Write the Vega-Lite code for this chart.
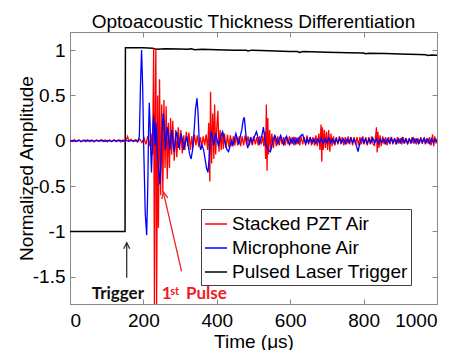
{
  "$schema": "https://vega.github.io/schema/vega-lite/v6.json",
  "width": 367,
  "height": 272,
  "autosize": {"type": "none"},
  "padding": {"left": 70, "top": 32, "right": 24, "bottom": 46},
  "background": "white",
  "title": {"text": "Optoacoustic Thickness Differentiation", "fontSize": 19, "font": "Liberation Sans", "fontWeight": "normal", "color": "black", "anchor": "middle", "offset": 0},
  "config": {
    "view": {"stroke": "#888888", "strokeWidth": 1},
    "axis": {"grid": false, "domain": false, "tickColor": "#888888", "tickSize": -5, "labelFont": "Liberation Sans", "labelFontSize": 19, "labelColor": "black", "titleFont": "Liberation Sans", "titleFontSize": 19, "titleFontWeight": "normal", "titleColor": "black"},
    "legend": {"orient": "none", "legendX": 131, "legendY": 177, "symbolType": "stroke", "symbolSize": 484, "symbolStrokeWidth": 1.5, "labelFont": "Liberation Sans", "labelFontSize": 19, "labelColor": "black", "padding": 3, "rowPadding": 2, "strokeColor": "#404040", "fillColor": "white", "labelOffset": 4, "labelLimit": 300}
  },
  "resolve": {"axis": {"x": "independent", "y": "independent"}},
  "layer": [
    {
      "data": {"values": [
        {"t":0,"v":-1},{"t":150,"v":-1},{"t":151,"v":1.025},{"t":200,"v":1.025},{"t":225,"v":1.02},{"t":235,"v":1.01},{"t":260,"v":1.015},{"t":300,"v":1.012},{"t":320,"v":1.01},{"t":330,"v":1.016},{"t":340,"v":1.005},{"t":360,"v":1.01},{"t":400,"v":1.005},{"t":450,"v":1.0},{"t":480,"v":1.0},{"t":485,"v":0.99},{"t":495,"v":1.0},{"t":520,"v":0.995},{"t":560,"v":0.99},{"t":600,"v":0.985},{"t":620,"v":0.985},{"t":625,"v":0.975},{"t":635,"v":0.985},{"t":700,"v":0.978},{"t":760,"v":0.972},{"t":800,"v":0.968},{"t":805,"v":0.96},{"t":815,"v":0.965},{"t":860,"v":0.962},{"t":900,"v":0.958},{"t":950,"v":0.952},{"t":970,"v":0.948},{"t":975,"v":0.94},{"t":985,"v":0.947},{"t":1000,"v":0.943}
      ]},
      "mark": {"type": "line", "strokeWidth": 1.5, "clip": true},
      "encoding": {
        "x": {"field": "t", "type": "quantitative", "scale": {"domain": [0, 1000], "nice": false}, "axis": {"orient": "bottom", "values": [0,200,400,600,800,1000], "labelExpr": "'' + datum.value", "title": "Time (μs)", "labelPadding": 12, "titlePadding": 2}},
        "y": {"field": "v", "type": "quantitative", "scale": {"domain": [-1.8, 1.2], "nice": false, "zero": false}, "axis": {"orient": "left", "values": [-1.5,-1,-0.5,0,0.5,1], "labelExpr": "'' + datum.value", "title": "Normalized Amplitude", "labelPadding": 10, "titlePadding": -4}},
        "color": {"datum": "Pulsed Laser Trigger", "type": "nominal", "scale": {"domain": ["Stacked PZT Air", "Microphone Air", "Pulsed Laser Trigger"], "range": ["#ff0000", "#0000ff", "#000000"]}, "legend": {"title": null}}
      }
    },
    {
      "data": {"values": [
        {"t":0,"v":0.01},{"t":6,"v":-0.01},{"t":12,"v":0.012},{"t":18,"v":-0.008},{"t":24,"v":0.01},{"t":30,"v":-0.012},{"t":36,"v":0.008},{"t":42,"v":-0.01},{"t":48,"v":0.012},{"t":54,"v":-0.01},{"t":60,"v":0.01},{"t":66,"v":-0.012},{"t":72,"v":0.01},{"t":78,"v":-0.008},{"t":84,"v":0.012},{"t":90,"v":-0.01},{"t":96,"v":0.01},{"t":102,"v":-0.012},{"t":108,"v":0.01},{"t":114,"v":-0.01},{"t":120,"v":0.012},{"t":126,"v":-0.01},{"t":132,"v":0.01},{"t":138,"v":-0.012},{"t":144,"v":0.01},{"t":150,"v":-0.01},{"t":154,"v":0.02},{"t":157,"v":0.05},{"t":160,"v":0.0},{"t":166,"v":0.015},{"t":172,"v":-0.01},{"t":178,"v":0.012},{"t":184,"v":-0.015},{"t":190,"v":0.02},{"t":196,"v":-0.02},{"t":202,"v":0.03},{"t":207,"v":-0.04},{"t":212,"v":0.05},{"t":217,"v":-0.06},{"t":221,"v":0.08},{"t":225,"v":-0.15},{"t":228,"v":1.02},{"t":230,"v":-1.8},{"t":232,"v":0.2},{"t":234,"v":1.02},{"t":236,"v":-1.8},{"t":239,"v":0.5},{"t":241,"v":-0.96},{"t":244,"v":0.68},{"t":247,"v":-0.6},{"t":250,"v":0.4},{"t":253,"v":-0.57},{"t":256,"v":0.45},{"t":259,"v":-0.3},{"t":262,"v":0.38},{"t":265,"v":-0.42},{"t":268,"v":0.2},{"t":271,"v":-0.3},{"t":274,"v":0.25},{"t":277,"v":-0.15},{"t":280,"v":0.22},{"t":284,"v":-0.22},{"t":288,"v":0.12},{"t":291,"v":-0.18},{"t":295,"v":0.15},{"t":299,"v":-0.1},{"t":302,"v":0.12},{"t":306,"v":-0.14},{"t":310,"v":0.06},{"t":313,"v":-0.1},{"t":317,"v":0.1},{"t":321,"v":-0.06},{"t":324,"v":0.09},{"t":328,"v":-0.1},{"t":332,"v":0.05},{"t":335,"v":-0.08},{"t":339,"v":0.07},{"t":343,"v":-0.05},{"t":347,"v":0.06},{"t":351,"v":-0.07},{"t":355,"v":0.04},{"t":359,"v":-0.06},{"t":363,"v":0.05},{"t":367,"v":-0.05},{"t":371,"v":0.07},{"t":375,"v":-0.1},{"t":378,"v":0.2},{"t":381,"v":-0.45},{"t":383,"v":0.54},{"t":386,"v":-0.25},{"t":389,"v":0.3},{"t":392,"v":-0.2},{"t":394,"v":0.4},{"t":397,"v":-0.15},{"t":400,"v":0.15},{"t":403,"v":0.33},{"t":406,"v":-0.12},{"t":409,"v":0.12},{"t":412,"v":-0.1},{"t":415,"v":0.1},{"t":418,"v":-0.09},{"t":421,"v":0.08},{"t":425,"v":-0.08},{"t":429,"v":0.07},{"t":433,"v":-0.07},{"t":437,"v":0.06},{"t":441,"v":-0.06},{"t":445,"v":0.05},{"t":449,"v":-0.05},{"t":453,"v":0.06},{"t":457,"v":-0.05},{"t":461,"v":0.05},{"t":465,"v":-0.06},{"t":469,"v":0.05},{"t":473,"v":-0.05},{"t":477,"v":0.06},{"t":481,"v":-0.04},{"t":485,"v":0.05},{"t":489,"v":-0.05},{"t":493,"v":0.04},{"t":497,"v":-0.05},{"t":501,"v":0.05},{"t":505,"v":-0.04},{"t":509,"v":0.04},{"t":513,"v":-0.05},{"t":517,"v":0.05},{"t":521,"v":-0.04},{"t":525,"v":0.05},{"t":528,"v":-0.06},{"t":531,"v":0.1},{"t":533,"v":-0.2},{"t":535,"v":0.4},{"t":537,"v":-0.33},{"t":539,"v":0.25},{"t":541,"v":-0.15},{"t":544,"v":0.12},{"t":547,"v":-0.1},{"t":550,"v":0.08},{"t":554,"v":-0.08},{"t":558,"v":0.06},{"t":562,"v":-0.06},{"t":566,"v":0.05},{"t":570,"v":-0.05},{"t":574,"v":0.05},{"t":578,"v":-0.04},{"t":582,"v":0.04},{"t":586,"v":-0.05},{"t":590,"v":0.04},{"t":594,"v":-0.04},{"t":598,"v":0.05},{"t":602,"v":-0.04},{"t":606,"v":0.04},{"t":610,"v":-0.05},{"t":614,"v":0.04},{"t":618,"v":-0.04},{"t":622,"v":0.04},{"t":626,"v":-0.05},{"t":630,"v":0.05},{"t":634,"v":-0.04},{"t":638,"v":0.04},{"t":642,"v":-0.05},{"t":646,"v":0.06},{"t":650,"v":-0.04},{"t":654,"v":0.04},{"t":658,"v":-0.05},{"t":662,"v":0.04},{"t":666,"v":-0.05},{"t":670,"v":0.06},{"t":674,"v":-0.06},{"t":678,"v":0.08},{"t":681,"v":-0.1},{"t":684,"v":0.18},{"t":686,"v":-0.23},{"t":688,"v":0.15},{"t":690,"v":-0.1},{"t":693,"v":0.12},{"t":696,"v":-0.08},{"t":699,"v":0.1},{"t":702,"v":-0.1},{"t":705,"v":0.12},{"t":708,"v":-0.12},{"t":711,"v":0.08},{"t":714,"v":-0.06},{"t":718,"v":0.05},{"t":722,"v":-0.05},{"t":726,"v":0.04},{"t":730,"v":-0.04},{"t":734,"v":0.05},{"t":738,"v":-0.04},{"t":742,"v":0.04},{"t":746,"v":-0.05},{"t":750,"v":0.04},{"t":754,"v":-0.04},{"t":758,"v":0.05},{"t":762,"v":-0.04},{"t":766,"v":0.04},{"t":770,"v":-0.05},{"t":774,"v":0.04},{"t":778,"v":-0.04},{"t":782,"v":0.04},{"t":786,"v":-0.05},{"t":790,"v":0.04},{"t":794,"v":-0.04},{"t":798,"v":0.05},{"t":802,"v":-0.04},{"t":806,"v":0.04},{"t":810,"v":-0.05},{"t":814,"v":0.04},{"t":818,"v":-0.04},{"t":822,"v":0.05},{"t":826,"v":-0.04},{"t":830,"v":-0.05},{"t":833,"v":0.06},{"t":835,"v":0.15},{"t":837,"v":-0.13},{"t":839,"v":0.1},{"t":842,"v":-0.08},{"t":845,"v":0.06},{"t":848,"v":-0.06},{"t":852,"v":0.05},{"t":856,"v":-0.04},{"t":860,"v":0.04},{"t":864,"v":-0.05},{"t":868,"v":0.04},{"t":872,"v":-0.04},{"t":876,"v":0.04},{"t":880,"v":-0.04},{"t":884,"v":0.03},{"t":888,"v":-0.04},{"t":892,"v":0.04},{"t":896,"v":-0.03},{"t":900,"v":0.03},{"t":904,"v":-0.04},{"t":908,"v":0.04},{"t":912,"v":-0.03},{"t":916,"v":0.03},{"t":920,"v":-0.04},{"t":924,"v":0.03},{"t":928,"v":-0.03},{"t":932,"v":0.04},{"t":936,"v":-0.03},{"t":940,"v":0.03},{"t":944,"v":-0.04},{"t":948,"v":0.03},{"t":952,"v":-0.03},{"t":956,"v":0.04},{"t":960,"v":-0.03},{"t":964,"v":0.03},{"t":968,"v":-0.04},{"t":972,"v":0.03},{"t":976,"v":-0.03},{"t":980,"v":0.04},{"t":984,"v":-0.05},{"t":988,"v":0.07},{"t":991,"v":-0.06},{"t":994,"v":0.05},{"t":997,"v":-0.03},{"t":1000,"v":0.02}
      ]},
      "mark": {"type": "line", "strokeWidth": 1.3, "clip": true},
      "encoding": {
        "x": {"field": "t", "type": "quantitative", "axis": null},
        "y": {"field": "v", "type": "quantitative", "axis": null},
        "color": {"datum": "Stacked PZT Air", "type": "nominal"}
      }
    },
    {
      "data": {"values": [
        {"t":0,"v":-0.005},{"t":8,"v":0.005},{"t":16,"v":-0.006},{"t":24,"v":0.004},{"t":32,"v":-0.005},{"t":40,"v":0.006},{"t":48,"v":-0.004},{"t":56,"v":0.005},{"t":64,"v":-0.006},{"t":72,"v":0.005},{"t":80,"v":-0.004},{"t":88,"v":0.006},{"t":96,"v":-0.005},{"t":104,"v":0.004},{"t":112,"v":-0.006},{"t":120,"v":0.005},{"t":128,"v":-0.004},{"t":136,"v":0.006},{"t":144,"v":-0.005},{"t":152,"v":0.005},{"t":160,"v":-0.006},{"t":168,"v":0.005},{"t":176,"v":-0.004},{"t":182,"v":0.006},{"t":186,"v":0.0},{"t":189,"v":0.05},{"t":192,"v":0.6},{"t":195,"v":1.0},{"t":198,"v":0.6},{"t":201,"v":-0.1},{"t":205,"v":-0.8},{"t":209,"v":-1.04},{"t":212,"v":-0.5},{"t":214,"v":0.1},{"t":216,"v":0.42},{"t":218,"v":0.2},{"t":220,"v":-0.1},{"t":222,"v":-0.35},{"t":224,"v":-0.1},{"t":226,"v":0.15},{"t":228,"v":0.28},{"t":230,"v":0.1},{"t":232,"v":-0.05},{"t":234,"v":0.2},{"t":236,"v":0.1},{"t":238,"v":-0.15},{"t":241,"v":-0.3},{"t":245,"v":-0.48},{"t":248,"v":-0.2},{"t":251,"v":0.1},{"t":254,"v":0.3},{"t":257,"v":0.15},{"t":260,"v":-0.1},{"t":263,"v":0.05},{"t":266,"v":0.15},{"t":269,"v":0.0},{"t":272,"v":-0.1},{"t":275,"v":0.05},{"t":278,"v":0.12},{"t":281,"v":-0.05},{"t":284,"v":-0.12},{"t":287,"v":0.0},{"t":290,"v":0.1},{"t":293,"v":0.05},{"t":296,"v":-0.08},{"t":299,"v":-0.02},{"t":302,"v":0.08},{"t":306,"v":0.02},{"t":310,"v":-0.1},{"t":314,"v":-0.02},{"t":318,"v":0.05},{"t":322,"v":-0.05},{"t":326,"v":-0.15},{"t":330,"v":-0.2},{"t":334,"v":-0.1},{"t":338,"v":0.1},{"t":342,"v":0.35},{"t":346,"v":0.47},{"t":349,"v":0.3},{"t":352,"v":0.0},{"t":356,"v":-0.1},{"t":360,"v":-0.05},{"t":364,"v":-0.1},{"t":368,"v":-0.2},{"t":372,"v":-0.3},{"t":376,"v":-0.35},{"t":379,"v":-0.2},{"t":382,"v":0.0},{"t":385,"v":0.1},{"t":388,"v":0.05},{"t":391,"v":-0.05},{"t":394,"v":0.0},{"t":397,"v":0.08},{"t":400,"v":0.03},{"t":404,"v":-0.05},{"t":408,"v":0.0},{"t":412,"v":0.06},{"t":416,"v":0.1},{"t":420,"v":0.03},{"t":424,"v":-0.05},{"t":428,"v":-0.1},{"t":432,"v":-0.12},{"t":436,"v":-0.06},{"t":440,"v":0.0},{"t":444,"v":-0.05},{"t":448,"v":0.02},{"t":452,"v":0.08},{"t":456,"v":0.02},{"t":460,"v":-0.04},{"t":464,"v":0.05},{"t":468,"v":0.12},{"t":472,"v":0.23},{"t":475,"v":0.26},{"t":478,"v":0.12},{"t":481,"v":0.0},{"t":484,"v":-0.08},{"t":488,"v":-0.03},{"t":492,"v":0.04},{"t":496,"v":-0.02},{"t":500,"v":0.03},{"t":504,"v":0.06},{"t":508,"v":0.1},{"t":512,"v":0.04},{"t":516,"v":-0.03},{"t":520,"v":0.02},{"t":524,"v":0.08},{"t":527,"v":0.15},{"t":530,"v":0.05},{"t":534,"v":-0.05},{"t":538,"v":-0.08},{"t":542,"v":-0.11},{"t":546,"v":-0.12},{"t":550,"v":-0.05},{"t":554,"v":0.02},{"t":558,"v":0.06},{"t":562,"v":0.02},{"t":566,"v":-0.03},{"t":570,"v":0.02},{"t":574,"v":0.06},{"t":578,"v":0.01},{"t":582,"v":-0.04},{"t":586,"v":0.02},{"t":590,"v":0.05},{"t":594,"v":0.0},{"t":598,"v":-0.04},{"t":602,"v":0.02},{"t":606,"v":-0.02},{"t":610,"v":0.03},{"t":614,"v":-0.03},{"t":618,"v":0.02},{"t":622,"v":-0.02},{"t":626,"v":0.04},{"t":630,"v":0.06},{"t":634,"v":0.07},{"t":638,"v":0.02},{"t":642,"v":-0.03},{"t":646,"v":0.02},{"t":650,"v":-0.02},{"t":655,"v":0.03},{"t":660,"v":-0.02},{"t":665,"v":0.02},{"t":670,"v":-0.03},{"t":675,"v":0.02},{"t":680,"v":-0.02},{"t":685,"v":0.03},{"t":690,"v":-0.03},{"t":695,"v":0.02},{"t":700,"v":-0.02},{"t":705,"v":0.03},{"t":710,"v":-0.02},{"t":715,"v":0.02},{"t":720,"v":-0.03},{"t":725,"v":0.02},{"t":730,"v":-0.02},{"t":735,"v":0.03},{"t":740,"v":-0.02},{"t":745,"v":0.02},{"t":750,"v":-0.03},{"t":755,"v":0.02},{"t":760,"v":-0.02},{"t":765,"v":0.03},{"t":770,"v":-0.02},{"t":774,"v":0.02},{"t":778,"v":-0.02},{"t":782,"v":-0.08},{"t":785,"v":-0.12},{"t":788,"v":-0.06},{"t":792,"v":0.0},{"t":796,"v":0.03},{"t":800,"v":-0.02},{"t":805,"v":0.02},{"t":810,"v":-0.03},{"t":815,"v":0.02},{"t":820,"v":-0.02},{"t":825,"v":0.03},{"t":830,"v":-0.02},{"t":835,"v":0.02},{"t":840,"v":-0.03},{"t":845,"v":0.02},{"t":850,"v":-0.02},{"t":855,"v":0.02},{"t":860,"v":-0.03},{"t":865,"v":0.02},{"t":870,"v":-0.02},{"t":875,"v":0.03},{"t":880,"v":-0.02},{"t":885,"v":0.02},{"t":890,"v":-0.03},{"t":895,"v":0.02},{"t":900,"v":-0.02},{"t":905,"v":0.03},{"t":910,"v":-0.02},{"t":915,"v":0.02},{"t":920,"v":-0.03},{"t":925,"v":0.02},{"t":930,"v":-0.02},{"t":935,"v":0.03},{"t":940,"v":-0.02},{"t":945,"v":0.02},{"t":950,"v":-0.03},{"t":955,"v":0.02},{"t":960,"v":-0.02},{"t":965,"v":0.03},{"t":970,"v":-0.02},{"t":975,"v":0.02},{"t":980,"v":-0.03},{"t":985,"v":0.02},{"t":990,"v":-0.02},{"t":995,"v":0.02},{"t":1000,"v":-0.01}
      ]},
      "mark": {"type": "line", "strokeWidth": 1.3, "clip": true},
      "encoding": {
        "x": {"field": "t", "type": "quantitative", "axis": null},
        "y": {"field": "v", "type": "quantitative", "axis": null},
        "color": {"datum": "Microphone Air", "type": "nominal"}
      }
    },
    {
      "data": {"values": [
        {"g":"b1","t":154.5,"v":-1.51},{"g":"b1","t":154.5,"v":-1.125},
        {"g":"b2","t":146.3,"v":-1.19},{"g":"b2","t":154.5,"v":-1.125},{"g":"b2","t":162.7,"v":-1.19}
      ]},
      "mark": {"type": "line", "color": "#333333", "strokeWidth": 1.3},
      "encoding": {
        "x": {"field": "t", "type": "quantitative", "axis": {"orient": "top", "values": [0,200,400,600,800,1000], "labels": false, "title": null}},
        "y": {"field": "v", "type": "quantitative", "axis": {"orient": "right", "values": [-1.5,-1,-0.5,0,0.5,1], "labels": false, "title": null}},
        "detail": {"field": "g"}
      }
    },
    {
      "data": {"values": [
        {"g":"r1","t":304,"v":-1.44},{"g":"r1","t":254,"v":-0.56},
        {"g":"r2","t":250.4,"v":-0.644},{"g":"r2","t":254,"v":-0.56},{"g":"r2","t":266.5,"v":-0.63}
      ]},
      "mark": {"type": "line", "color": "#ee2222", "strokeWidth": 1.3},
      "encoding": {
        "x": {"field": "t", "type": "quantitative", "axis": null},
        "y": {"field": "v", "type": "quantitative", "axis": null},
        "detail": {"field": "g"}
      }
    },
    {
      "data": {"values": [{"t": 59, "v": -1.75, "label": "Trigger"}]},
      "mark": {"type": "text", "font": "Lato", "fontWeight": "bold", "fontSize": 17, "color": "#111111", "align": "left", "baseline": "alphabetic"},
      "encoding": {
        "x": {"field": "t", "type": "quantitative", "axis": null},
        "y": {"field": "v", "type": "quantitative", "axis": null},
        "text": {"field": "label"}
      }
    },
    {
      "data": {"values": [{"t": 250, "v": -1.75, "label": "1"}, {"t": 316, "v": -1.75, "label": "Pulse"}]},
      "mark": {"type": "text", "font": "Lato", "fontWeight": "bold", "fontSize": 17, "color": "#ee1c25", "align": "left", "baseline": "alphabetic"},
      "encoding": {
        "x": {"field": "t", "type": "quantitative", "axis": null},
        "y": {"field": "v", "type": "quantitative", "axis": null},
        "text": {"field": "label"}
      }
    },
    {
      "data": {"values": [{"t": 273, "v": -1.7, "label": "st"}]},
      "mark": {"type": "text", "font": "Lato", "fontWeight": "bold", "fontSize": 11, "color": "#ee1c25", "align": "left", "baseline": "alphabetic"},
      "encoding": {
        "x": {"field": "t", "type": "quantitative", "axis": null},
        "y": {"field": "v", "type": "quantitative", "axis": null},
        "text": {"field": "label"}
      }
    }
  ]
}
